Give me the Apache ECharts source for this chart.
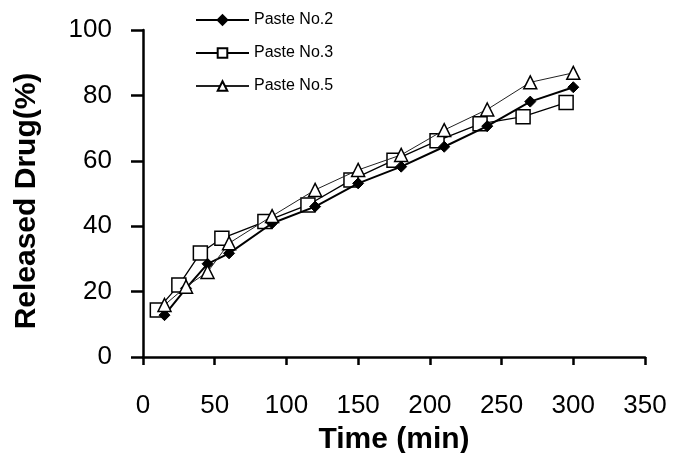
<!DOCTYPE html>
<html>
<head>
<meta charset="utf-8">
<script src="https://cdn.jsdelivr.net/npm/echarts@6/dist/echarts.min.js"></script>
<style>html,body{margin:0;padding:0;background:#fff}#c{width:676px;height:453px}</style>
</head>
<body>
<div id="c"></div>
<script>
const xTicks = [0, 50, 100, 150, 200, 250, 300, 350];
const yTicks = [0, 20, 40, 60, 80, 100];
const timeP2 = [15, 30, 45, 60, 90, 120, 150, 180, 210, 240, 270, 300];
const timeP3 = [10, 25, 40, 55, 85, 115, 145, 175, 205, 235, 265, 295];
const timeP5 = [15, 30, 45, 60, 90, 120, 150, 180, 210, 240, 270, 300];
const paste2 = [12.8, 21, 28.5, 31.7, 40.9, 46, 53.1, 58.2, 64.3, 70.6, 78.1, 82.5];
const paste3 = [14.4, 22, 31.8, 36.3, 41.4, 46.5, 54.1, 60.2, 66.1, 71.3, 73.5, 77.8];
const paste5 = [15.9, 21.5, 26, 34.8, 43.1, 51.1, 57.2, 61.8, 69.4, 75.7, 84, 86.9];
const names = ['Paste No.2', 'Paste No.3', 'Paste No.5'];

const pair = (xs, ys) => xs.map((x, i) => [x, ys[i]]);
const font = 'Liberation Sans, Arial, sans-serif';

const chart = echarts.init(document.getElementById('c'), null, {renderer: 'canvas'});
chart.setOption({
  animation: false,
  backgroundColor: '#fff',
  grid: {left: 143, right: 31, top: 30, bottom: 96, containLabel: false, outerBoundsMode: 'none'},
  legend: {
    orient: 'vertical', left: 190, top: 7, itemGap: 17,
    itemWidth: 53, itemHeight: 12,
    textStyle: {fontFamily: font, fontSize: 16, color: '#000'},
    data: names
  },
  xAxis: {
    type: 'value', min: 0, max: 350, interval: 50,
    name: 'Time (min)', nameLocation: 'middle', nameGap: 68,
    nameTextStyle: {fontFamily: font, fontSize: 30, fontWeight: 'bold', color: '#000'},
    axisLine: {show: true, onZero: false, lineStyle: {color: '#000', width: 2.5}},
    axisTick: {show: true, inside: false, length: 8, lineStyle: {color: '#000', width: 2.5}},
    axisLabel: {fontFamily: font, fontSize: 26, color: '#000', margin: 36,
      formatter: v => xTicks.includes(v) ? String(v) : ''},
    splitLine: {show: false}
  },
  yAxis: {
    type: 'value', min: 0, max: 100, interval: 20,
    name: 'Released Drug(%)', nameLocation: 'middle', nameGap: 101, nameRotate: 90,
    nameTextStyle: {fontFamily: font, fontSize: 30, fontWeight: 'bold', color: '#000', padding: [0, 15, 0, 0]},
    axisLine: {show: true, onZero: false, lineStyle: {color: '#000', width: 2.5}},
    axisTick: {show: true, inside: false, length: 12, lineStyle: {color: '#000', width: 2.5}},
    axisLabel: {fontFamily: font, fontSize: 26, color: '#000', margin: 31,
      formatter: v => yTicks.includes(v) ? String(v) : ''},
    splitLine: {show: false}
  },
  series: [
    {
      name: names[0], type: 'line', data: pair(timeP2, paste2),
      symbol: 'diamond', symbolSize: 11,
      lineStyle: {color: '#000', width: 2},
      itemStyle: {color: '#000', borderColor: '#000', borderWidth: 1},
      z: 3
    },
    {
      name: names[1], type: 'line', data: pair(timeP3, paste3),
      symbol: 'rect', symbolSize: 14,
      lineStyle: {color: '#000', width: 1.3},
      itemStyle: {color: '#fff', borderColor: '#000', borderWidth: 1.5},
      z: 2
    },
    {
      name: names[2], type: 'line', data: pair(timeP5, paste5),
      symbol: 'triangle', symbolSize: 13,
      lineStyle: {color: '#222', width: 1},
      itemStyle: {color: '#fff', borderColor: '#000', borderWidth: 1.5},
      z: 4
    }
  ]
});
</script>
</body>
</html>
